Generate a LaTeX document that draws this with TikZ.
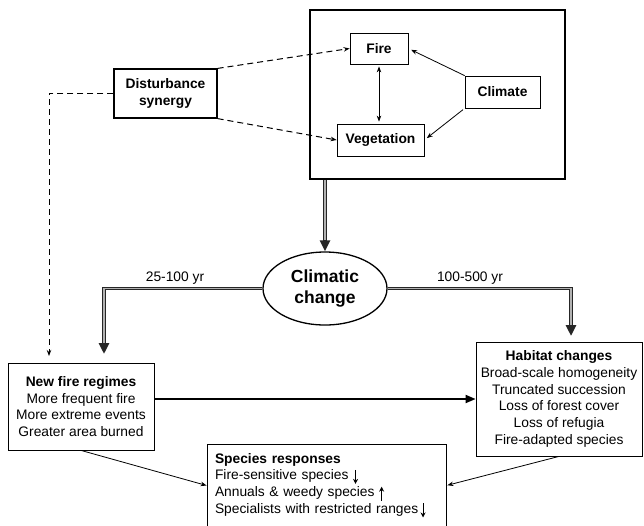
\documentclass[tikz,border=0pt]{standalone}
\usepackage{fontspec}
\setmainfont{Liberation Sans}
\usetikzlibrary{arrows.meta,shapes.geometric}
\newcommand\myarrdown{\tikz[baseline=0pt,x=1pt,y=1pt]\draw[line width=0.9pt,-{Stealth[length=5pt,width=5pt]}] (0,10) -- (0,-4);}
\newcommand\myarrup{\tikz[baseline=0pt,x=1pt,y=1pt]\draw[line width=0.9pt,-{Stealth[length=5pt,width=5pt]}] (0,-4) -- (0,10);}
\begin{document}
\begin{tikzpicture}[x=1pt,y=-1pt,
  every node/.style={font=\fontsize{13.8}{16.8}\selectfont, inner sep=0pt},
  sbox/.style={draw, line width=0.8pt, rectangle},
  bbox/.style={draw, line width=0.8pt, rectangle, font=\fontsize{13.8}{16.8}\selectfont\bfseries},
  dsh/.style={line width=1pt, dash pattern=on 6pt off 4pt},
  tip/.style={-{Stealth[length=6pt,width=4.5pt]}},
  dblouter/.style={line width=3.2pt, line join=miter, draw=black!85, -{Triangle[length=11pt,width=10pt]}},
  dblinner/.style={line width=1.4pt, draw=gray!60, line join=miter, shorten >=11pt}
]
\useasboundingbox (0,0) rectangle (644,525);

% top system box
\node[draw, line width=1.8pt, minimum width=255pt, minimum height=169pt] (bigbox) at (437.5,94.5) {};
\node[bbox, minimum width=58pt, minimum height=31pt] (fire) at (379,48.5) {Fire};
\node[bbox, minimum width=87pt, minimum height=32pt] (veg) at (380.5,140) {Vegetation};
\node[bbox, minimum width=75pt, minimum height=32pt] (clim) at (502.5,92) {Climate};
\node[bbox, line width=1.2pt, minimum width=103pt, minimum height=49pt, align=center] (ds) at (165.5,93.5) {Disturbance\\synergy};

\draw[line width=0.8pt, {Stealth[length=6pt,width=4.5pt]}-{Stealth[length=6pt,width=4.5pt]}, shorten <=2pt, shorten >=2pt] (fire.south) -- (fire.south |- veg.north);
\draw[line width=0.8pt, tip, shorten >=3pt] (clim.north west) -- (fire.east);
\draw[line width=0.8pt, tip, shorten >=3pt, shorten <=2pt] (clim.south west) -- (veg.east);

\draw[dsh, tip] (ds.north east) -- (fire.west);
\draw[dsh, tip] (ds.south east) -- (veg.west);
\coordinate (dsend) at (49,356);
\draw[dsh, tip] (ds.west) -| (dsend);

% climatic change
\node[draw, ellipse, line width=1.3pt, minimum width=124pt, minimum height=73pt, align=center,
      font=\fontsize{17.5}{21}\selectfont\bfseries] (cc) at (325,288.5) {Climatic\\change};
\draw[dblouter] (cc.north |- bigbox.south) -- (cc.north);
\draw[dblinner] (cc.north |- bigbox.south) -- (cc.north);

\coordinate (lend) at (104,354);
\coordinate (rend) at (571,336);
\draw[dblouter] (cc.west) -| (lend);
\draw[dblinner] (cc.west) -| (lend);
\draw[dblouter] (cc.east) -| (rend);
\draw[dblinner] (cc.east) -| (rend);

\node (l1) at (175,278) {25-100 yr};
\node (l2) at (470,278) {100-500 yr};

% lower boxes
\node[sbox, minimum width=146pt, minimum height=87pt, align=center] (nfr) at (81,406.5)
  {\textbf{New fire regimes}\\More frequent fire\\More extreme events\\Greater area burned};
\node[sbox, minimum width=166pt, minimum height=114pt, align=center] (hab) at (559,399)
  {\textbf{Habitat changes}\\Broad-scale homogeneity\\Truncated succession\\Loss of forest cover\\Loss of refugia\\Fire-adapted species};
\node[sbox, minimum width=239pt, minimum height=83pt, inner xsep=8pt, text width=223pt, align=left] (sp) at (326.5,485.5)
  {\textbf{Species responses}\\Fire-sensitive species \myarrdown\\Annuals \& weedy species \myarrup\\Specialists with restricted ranges\,\myarrdown};

\draw[line width=1.8pt, -{Triangle[length=10pt,width=8pt]}] (nfr.east |- hab.west) -- (hab.west);
\draw[line width=0.8pt, tip] (nfr.south) -- (sp.west);
\draw[line width=0.8pt, tip, shorten >=1pt] (hab.south) -- (sp.east);
\end{tikzpicture}
\end{document}
